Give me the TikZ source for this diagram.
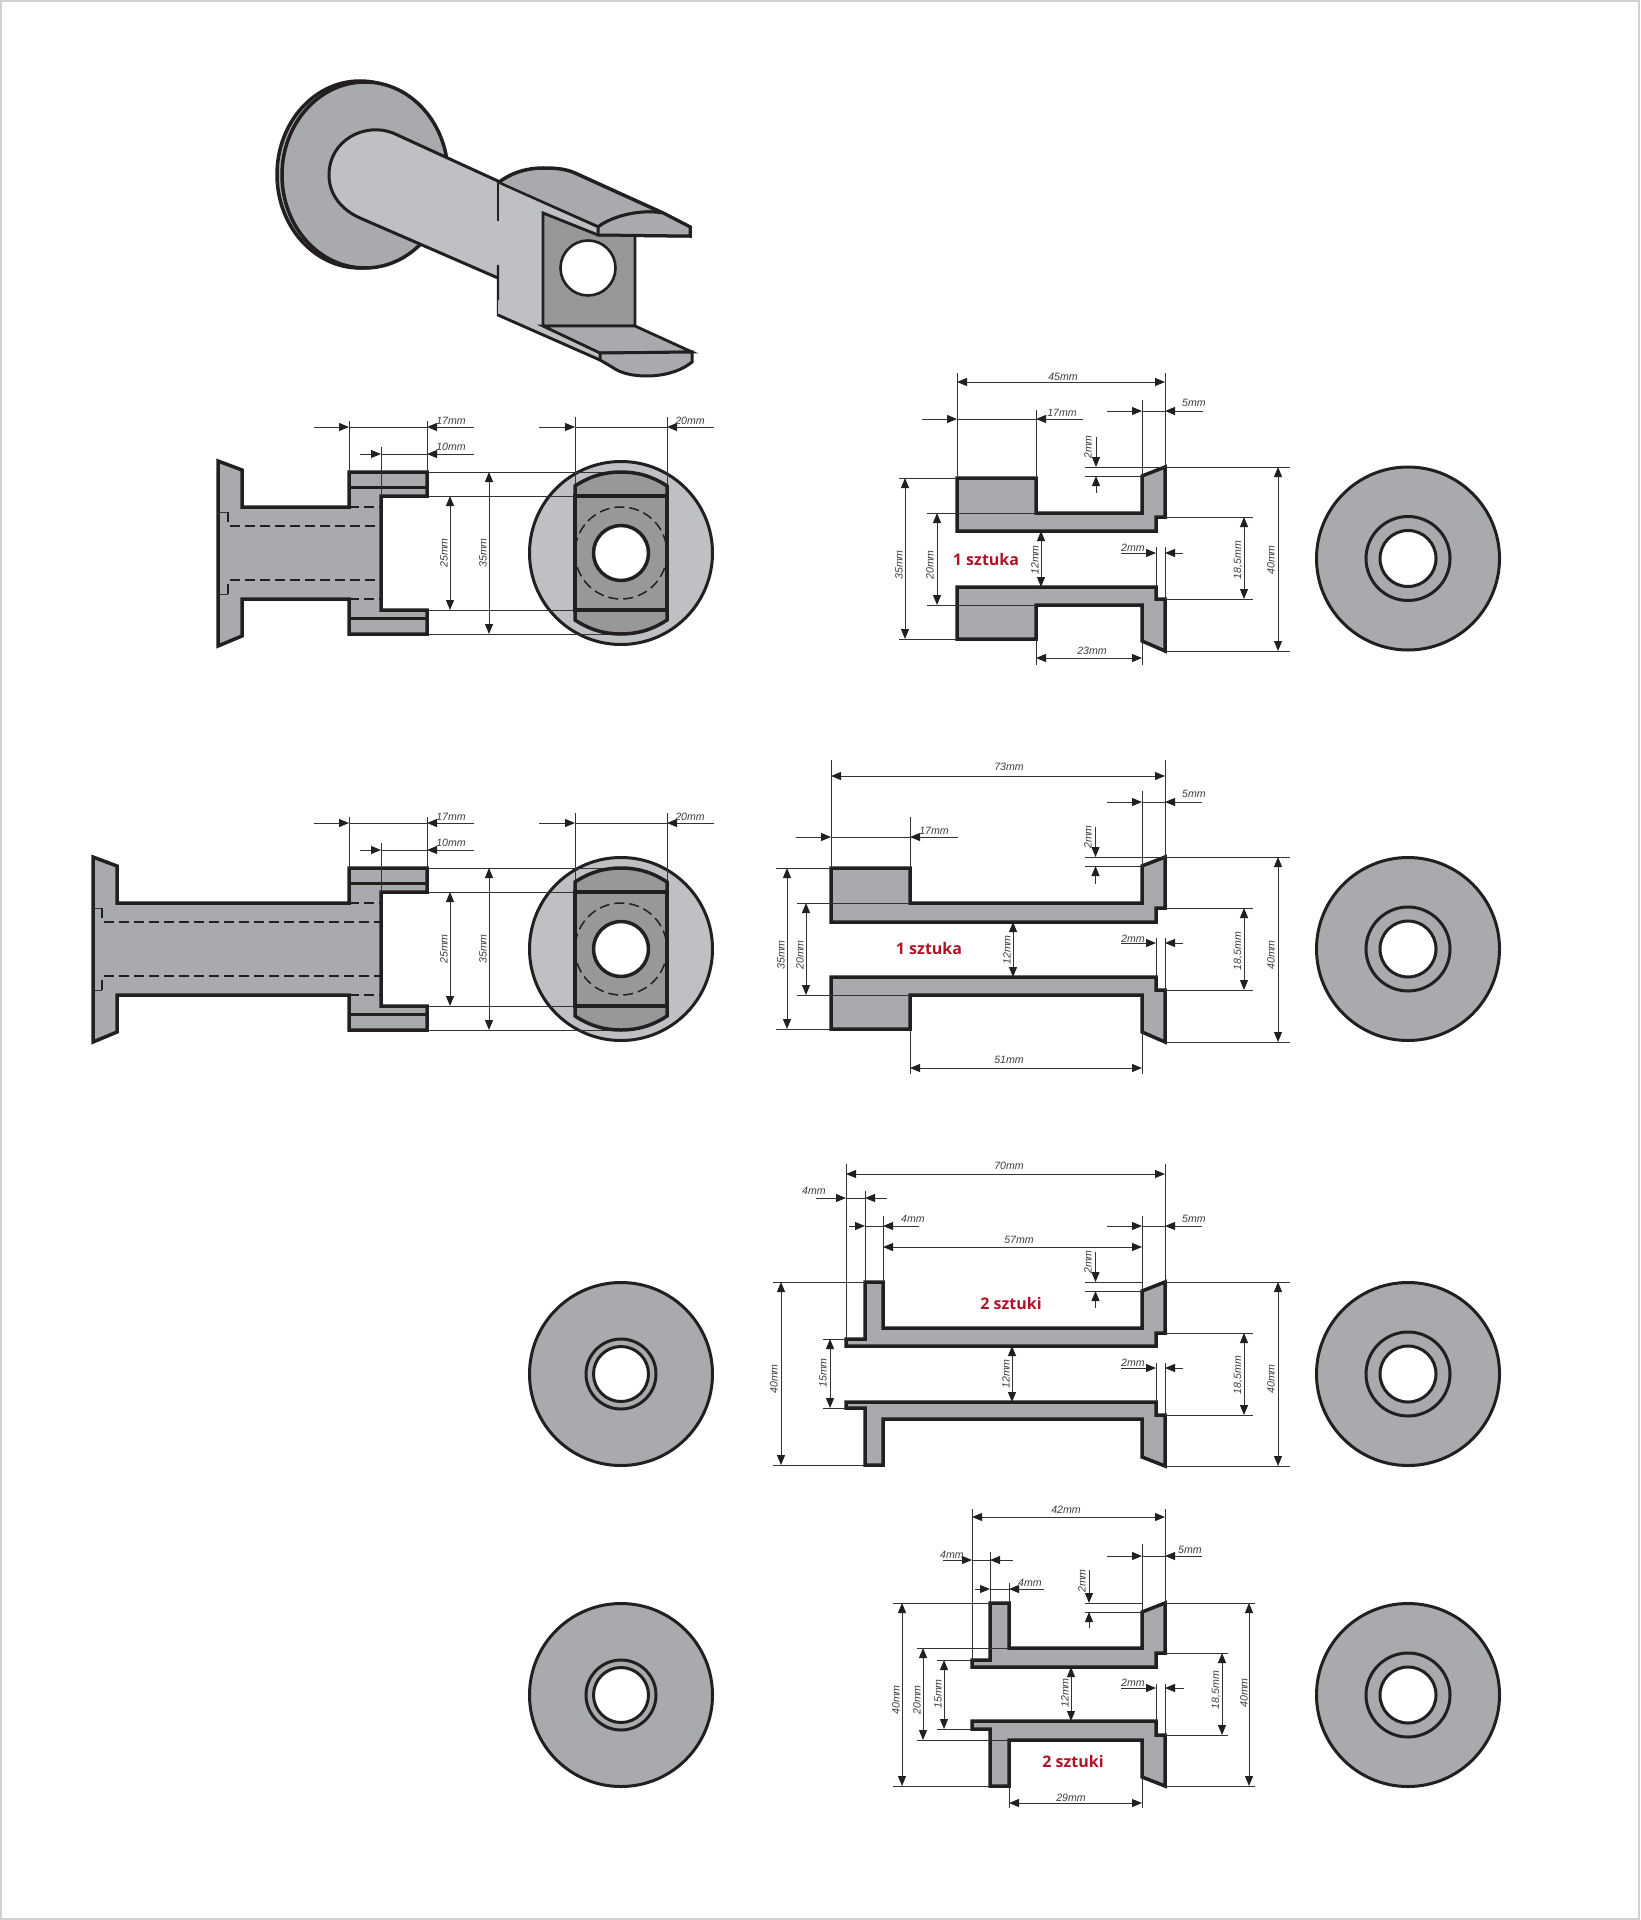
\documentclass[tikz,border=0pt]{standalone}
\usepackage{fontspec}
\setmainfont{Liberation Sans}
\newfontfamily\redfont{Open Sans}
\usetikzlibrary{arrows.meta}
\definecolor{partgray}{HTML}{A9AAAD}
\definecolor{lightgray2}{HTML}{BFC0C3}
\definecolor{darkgray2}{HTML}{98989B}
\definecolor{inkline}{HTML}{231F20}
\definecolor{thinink}{HTML}{333333}
\definecolor{labelred}{HTML}{AE1426}
\definecolor{labelgray}{HTML}{3C3C3C}
\tikzset{
  outline/.style={draw=inkline,line width=1.75pt,line join=miter},
  partfill/.style={outline,fill=partgray},
  thinline/.style={draw=thinink,line width=0.5pt},
  dashline/.style={draw=inkline,line width=0.75pt,dash pattern=on 5pt off 2.5pt},
  oneway/.style={thinline,-{Triangle[length=5pt,width=4pt,color=inkline]}},
  twoway/.style={thinline,{Triangle[length=5pt,width=4pt,color=inkline]}-{Triangle[length=5pt,width=4pt,color=inkline]}},
  dimlab/.style={inner sep=0pt,text=labelgray,font=\fontsize{5.3}{6}\selectfont\itshape},
  partlab/.style={inner sep=0pt,text=labelred,font=\redfont\fontsize{8}{9}\selectfont\bfseries},
}
\newcount\lcnt
\newcommand{\lab}[3]{\global\advance\lcnt by 1 \node[dimlab] (lab\the\lcnt) at (#1,#2) {#3};}
\newcommand{\rlab}[3]{\global\advance\lcnt by 1 \node[dimlab,rotate=90] (lab\the\lcnt) at (#1,#2) {#3};}
\newcommand{\plab}[3]{\global\advance\lcnt by 1 \node[partlab] (lab\the\lcnt) at (#1,#2) {#3};}
\newcommand{\ext}[4]{\draw[thinline] (#1,#2) -- (#3,#4);}
\newcommand{\one}[4]{\draw[oneway] (#1,#2) -- (#3,#4);}
\newcommand{\two}[4]{\draw[twoway] (#1,#2) -- (#3,#4);}
\newcommand{\washer}[4]{% cx cy ringr holer
  \fill[partgray] (#1,#2) circle[radius=91.5];
  \draw[outline,line width=1.5pt] (#1,#2) circle[radius=91.5];
  \draw[outline,line width=1.5pt] (#1,#2) circle[radius=#3];
  \draw[outline,line width=1.5pt,fill=white] (#1,#2) circle[radius=#4];
}
\newcommand{\capview}{%
  \fill[lightgray2] (621,553) circle[radius=91.5];
  \draw[outline,line width=1.5pt] (621,553) circle[radius=91.5];
  \ext{427}{472}{621}{472}\ext{427}{496}{575}{496}\ext{427}{610}{575}{610}\ext{427}{634}{621}{634}
  \ext{575}{417}{575}{486}\ext{667}{417}{667}{486}
  \filldraw[outline,fill=darkgray2] (575,496) -- (575,486) .. controls (590,476) and (605,472) .. (621,472) .. controls (637,472) and (652,476) .. (667,486) -- (667,496) -- cycle;
  \filldraw[outline,fill=darkgray2] (575,610) -- (575,620) .. controls (590,630) and (605,634) .. (621,634) .. controls (637,634) and (652,630) .. (667,620) -- (667,610) -- cycle;
  \filldraw[outline,fill=darkgray2] (575,496) rectangle (667,610);
  \draw[dashline] (621,553) circle[radius=46];
  \draw[outline,fill=white] (621,553) circle[radius=27.5];
}
\newcommand{\forkdims}{%
  \ext{349}{421}{349}{472}\ext{427}{421}{427}{472}\ext{381}{447}{381}{496}
  \one{314}{427}{349}{427}\ext{349}{427}{427}{427}\one{474}{427}{427}{427}
  \one{360}{454}{381}{454}\ext{381}{454}{427}{454}\one{474}{454}{427}{454}
  \one{539}{427}{575}{427}\ext{575}{427}{667}{427}\one{714}{427}{667}{427}
  \lab{451}{421}{17mm}\lab{451}{447}{10mm}\lab{690}{421}{20mm}
  \two{450}{496}{450}{610}\rlab{444}{553}{25mm}
  \two{489}{472}{489}{634}\rlab{483}{553}{35mm}
}
\newcommand{\forkdash}[1]{% x start of dashes
  \draw[dashline] (349,507) -- (381,507);
  \draw[dashline] (349,599) -- (381,599);
  \draw[dashline] (#1,526) -- (381,526);
  \draw[dashline] (#1,580) -- (381,580);
}
\begin{document}
\begin{tikzpicture}[x=0.5pt,y=-0.5pt]
\useasboundingbox (0,0) rectangle (1640,1920);
\draw[draw=black!18,line width=1pt] (1,1) rectangle (1639,1919);

%% ---------- perspective view
\filldraw[outline,fill=partgray] (360,174.5) ellipse[x radius=83,y radius=93.5];
\filldraw[outline,fill=partgray] (365,175) ellipse[x radius=83,y radius=93];
% roof
\filldraw[outline,fill=partgray] (498,183) .. controls (512,172) and (528,168) .. (543,168) .. controls (556,168) and (566,169) .. (575,173) -- (663,213) -- (690,227) -- (690,236) -- (598,235) -- (598,227) -- cycle;
\draw[outline,line width=1.4pt] (598,227) .. controls (612,216) and (640,209) .. (663,213);
% shaft and block
\fill[lightgray2] (393,133) .. controls (365,122) and (329,140) .. (329,175) .. controls (329,195) and (342,210) .. (360,218) -- (498,278) -- (498,315) -- (600,360) -- (600,353) -- (543,326) -- (543,213) -- (598,235) -- (598,227) -- (498,183) -- cycle;
\draw[outline,line width=1.5pt] (498,278) -- (360,218) .. controls (342,210) and (329,195) .. (329,175) .. controls (329,140) and (365,122) .. (393,133) -- (500,182);
\draw[outline,line width=1.2pt] (498,183) -- (498,221);
\draw[outline,line width=1.2pt] (498,265) -- (498,315) -- (600,360);
\draw[outline,line width=1.2pt] (500,183) -- (598,227);
\draw[outline,line width=1pt] (598,235) -- (543,213);
% inner face
\filldraw[outline,fill=darkgray2,line width=1.4pt] (543,213) -- (598,235) -- (635,235) -- (635,326) -- (543,326) -- cycle;
\draw[outline,fill=white,line width=1.3pt] (588,268) circle[radius=27.5];
\filldraw[outline,fill=partgray,line width=1.5pt] (598,227) .. controls (612,216) and (640,209) .. (663,213) -- (690,227) -- (690,236) -- (598,235) -- cycle;
% lower fork
\fill[lightgray2] (543,326) -- (600,353) -- (600,360) -- (498,315) -- (498,300) -- cycle;
\draw[outline,line width=1.4pt] (498,315) -- (600,360);
\draw[outline,line width=1pt] (543,326) -- (600,353);
\filldraw[outline,fill=partgray,line width=1.4pt] (543,326) -- (635,326) -- (692,352) -- (600,353) -- cycle;
\filldraw[outline,fill=partgray,line width=1.5pt] (600,353) -- (692,352) -- (692,362) .. controls (680,372) and (662,376) .. (647,376) .. controls (632,376) and (620,373) .. (612,367) -- (600,360) -- cycle;

%% ---------- side view 1
\capview
\filldraw[partfill] (218,461) -- (242,470) -- (242,507) -- (349,507) -- (349,472) -- (427,472) -- (427,496) -- (381,496) -- (381,610) -- (427,610) -- (427,634) -- (349,634) -- (349,599) -- (242,599) -- (242,636) -- (218,646) -- cycle;
\draw[outline,line width=1.5pt] (349,487) -- (427,487);
\draw[outline,line width=1.5pt] (349,618) -- (427,618);
\forkdash{230}
\draw[thinline] (218,512) -- (228,512);
\draw[thinline] (218,594) -- (228,594);
\draw[dashline] (228,512) -- (228,524);
\draw[dashline] (228,594) -- (228,582);
\forkdims

%% ---------- side view 2
\begin{scope}[shift={(0,396)}]
\capview
\filldraw[partfill] (93,461) -- (117,470) -- (117,507) -- (349,507) -- (349,472) -- (427,472) -- (427,496) -- (381,496) -- (381,610) -- (427,610) -- (427,634) -- (349,634) -- (349,599) -- (117,599) -- (117,636) -- (93,646) -- cycle;
\draw[outline,line width=1.5pt] (349,487) -- (427,487);
\draw[outline,line width=1.5pt] (349,618) -- (427,618);
\forkdash{104}
\draw[thinline] (93,512) -- (102,512);
\draw[thinline] (93,594) -- (102,594);
\draw[dashline] (102,512) -- (102,524);
\draw[dashline] (102,594) -- (102,582);
\forkdims
\end{scope}

%% ---------- washers
\washer{1408}{558.5}{42}{28}
\washer{1408}{949}{42}{28}
\washer{1408}{1374}{42}{28}
\washer{1408}{1695}{42}{28}
\washer{621}{1374}{35}{27.5}
\washer{621}{1695}{35}{27.5}

%% ---------- profile A
\filldraw[partfill] (957,478) -- (1036,478) -- (1036,513) -- (1142,513) -- (1142,476) -- (1165,467) -- (1165,517) -- (1156,517) -- (1156,531) -- (957,531) -- cycle;
\filldraw[partfill] (957,587) -- (1156,587) -- (1156,599) -- (1165,599) -- (1165,651) -- (1142,641) -- (1142,605) -- (1036,605) -- (1036,639) -- (957,639) -- cycle;
\ext{957}{373}{957}{478}\ext{1165}{373}{1165}{467}
\two{957}{382}{1165}{382}\lab{1063}{377}{45mm}
\ext{1036}{410}{1036}{478}
\one{922}{419}{957}{419}\ext{957}{419}{1036}{419}\one{1083}{419}{1036}{419}\lab{1062}{413}{17mm}
\ext{1142}{400}{1142}{476}
\one{1107}{411}{1142}{411}\ext{1142}{411}{1165}{411}\one{1203}{411}{1165}{411}\lab{1194}{403}{5mm}
\ext{1085}{467}{1290}{467}\ext{1085}{476}{1142}{476}
\one{1096}{437}{1096}{467}\one{1096}{493}{1096}{476}\rlab{1088}{447}{2mm}
\ext{899}{478}{957}{478}\ext{899}{639}{957}{639}
\two{905}{478}{905}{639}\rlab{899}{565}{35mm}
\ext{927}{513}{1036}{513}\ext{927}{605}{1036}{605}
\two{937}{513}{937}{605}\rlab{930}{565}{20mm}
\two{1041}{531}{1041}{587}\rlab{1035}{560}{12mm}
\plab{986}{559}{1 sztuka}
\ext{1156}{547}{1156}{587}\ext{1165}{547}{1165}{599}
\one{1121}{553}{1156}{553}\one{1183}{553}{1165}{553}\lab{1133}{548}{2mm}
\ext{1165}{517}{1253}{517}\ext{1165}{599}{1253}{599}
\two{1244}{517}{1244}{599}\rlab{1238}{560}{18,5mm}
\ext{1165}{651}{1290}{651}
\two{1278}{467}{1278}{651}\rlab{1271}{560}{40mm}
\ext{1036}{639}{1036}{665}\ext{1142}{641}{1142}{665}
\two{1036}{658}{1142}{658}\lab{1092}{651}{23mm}

%% ---------- profile B
\filldraw[partfill] (831,868) -- (910,868) -- (910,903) -- (1142,903) -- (1142,866) -- (1165,857) -- (1165,908) -- (1156,908) -- (1156,922) -- (831,922) -- cycle;
\filldraw[partfill] (831,977) -- (1156,977) -- (1156,990) -- (1165,990) -- (1165,1042) -- (1142,1032) -- (1142,995) -- (910,995) -- (910,1029) -- (831,1029) -- cycle;
\ext{831}{760}{831}{868}\ext{1165}{760}{1165}{857}
\two{831}{776}{1165}{776}\lab{1009}{767}{73mm}
\ext{910}{817}{910}{868}
\one{796}{837}{831}{837}\ext{831}{837}{910}{837}\one{958}{837}{910}{837}\lab{934}{831}{17mm}
\ext{1142}{791}{1142}{866}
\one{1107}{802}{1142}{802}\ext{1142}{802}{1165}{802}\one{1202}{802}{1165}{802}\lab{1194}{794}{5mm}
\ext{1085}{857}{1290}{857}\ext{1085}{866}{1142}{866}
\one{1095.5}{827}{1095.5}{857}\one{1095.5}{884}{1095.5}{866}\rlab{1088}{837}{2mm}
\ext{776}{868}{831}{868}\ext{776}{1029}{831}{1029}
\two{787}{868}{787}{1029}\rlab{781}{955}{35mm}
\ext{797}{903}{910}{903}\ext{797}{995}{910}{995}
\two{806}{903}{806}{995}\rlab{800}{955}{20mm}
\two{1013}{922}{1013}{977}\rlab{1007}{950}{12mm}
\plab{929}{948}{1 sztuka}
\ext{1156}{938}{1156}{977}\ext{1165}{938}{1165}{990}
\one{1121}{943}{1156}{943}\one{1183}{943}{1165}{943}\lab{1133}{939}{2mm}
\ext{1165}{908}{1253}{908}\ext{1165}{990}{1253}{990}
\two{1244}{908}{1244}{990}\rlab{1238}{951}{18,5mm}
\ext{1165}{1042}{1290}{1042}
\two{1278}{857}{1278}{1042}\rlab{1271}{955}{40mm}
\ext{910}{1029}{910}{1074}\ext{1142}{1032}{1142}{1074}
\two{910}{1068}{1142}{1068}\lab{1009}{1060}{51mm}

%% ---------- profile C
\filldraw[partfill] (846,1346) -- (846,1339) -- (865,1339) -- (865,1282) -- (883,1282) -- (883,1328) -- (1142,1328) -- (1142,1291) -- (1165,1282) -- (1165,1333) -- (1156,1333) -- (1156,1346) -- cycle;
\filldraw[partfill] (846,1402) -- (846,1408) -- (865,1408) -- (865,1465) -- (883,1465) -- (883,1419) -- (1142,1419) -- (1142,1457) -- (1165,1466) -- (1165,1415) -- (1156,1415) -- (1156,1402) -- cycle;
\ext{846}{1164}{846}{1339}\ext{1165}{1164}{1165}{1282}
\two{846}{1174}{1165}{1174}\lab{1009}{1166}{70mm}
\ext{865}{1191}{865}{1282}
\one{816}{1198}{846}{1198}\ext{846}{1198}{865}{1198}\one{887}{1198}{865}{1198}\lab{814}{1191}{4mm}
\ext{883}{1216}{883}{1282}
\one{849}{1226}{865}{1226}\ext{865}{1226}{883}{1226}\one{919}{1226}{883}{1226}\lab{913}{1219}{4mm}
\two{883}{1247}{1142}{1247}\lab{1019}{1240}{57mm}
\ext{1142}{1216}{1142}{1291}
\one{1107}{1226}{1142}{1226}\ext{1142}{1226}{1165}{1226}\one{1202}{1226}{1165}{1226}\lab{1194}{1219}{5mm}
\ext{773}{1282}{865}{1282}\ext{1165}{1282}{1290}{1282}\ext{1085}{1282}{1142}{1282}\ext{1085}{1291}{1142}{1291}
\one{1095.5}{1252}{1095.5}{1282}\one{1095.5}{1308}{1095.5}{1291}\rlab{1088}{1262}{2mm}
\ext{773}{1465}{865}{1465}
\two{781}{1282}{781}{1465}\rlab{774}{1379}{40mm}
\ext{823}{1339}{846}{1339}\ext{823}{1408}{846}{1408}
\two{830}{1339}{830}{1408}\rlab{823}{1373}{15mm}
\two{1012}{1346}{1012}{1402}\rlab{1006}{1374}{12mm}
\plab{1011}{1303}{2 sztuki}
\ext{1156}{1363}{1156}{1402}\ext{1165}{1363}{1165}{1415}
\one{1121}{1368}{1156}{1368}\one{1183}{1368}{1165}{1368}\lab{1133}{1363}{2mm}
\ext{1165}{1333}{1253}{1333}\ext{1165}{1415}{1253}{1415}
\two{1244}{1333}{1244}{1415}\rlab{1238}{1375}{18,5mm}
\ext{1165}{1466}{1290}{1466}
\two{1278}{1282}{1278}{1466}\rlab{1271}{1379}{40mm}

%% ---------- profile D
\filldraw[partfill] (972,1667) -- (972,1660) -- (990,1660) -- (990,1603) -- (1009,1603) -- (1009,1648) -- (1142,1648) -- (1142,1612) -- (1165,1603) -- (1165,1653) -- (1156,1653) -- (1156,1667) -- cycle;
\filldraw[partfill] (972,1721) -- (972,1729) -- (990,1729) -- (990,1786) -- (1009,1786) -- (1009,1740) -- (1142,1740) -- (1142,1777) -- (1165,1786) -- (1165,1735) -- (1156,1735) -- (1156,1721) -- cycle;
\ext{972}{1509}{972}{1660}\ext{1165}{1509}{1165}{1603}
\two{972}{1517}{1165}{1517}\lab{1066}{1510}{42mm}
\ext{990}{1552}{990}{1603}
\one{943}{1560}{972}{1560}\ext{972}{1560}{990}{1560}\one{1013}{1560}{990}{1560}\lab{952}{1555}{4mm}
\ext{1009}{1583}{1009}{1603}
\one{975}{1589}{990}{1589}\ext{990}{1589}{1009}{1589}\one{1044}{1589}{1009}{1589}\lab{1030}{1583}{4mm}
\ext{1142}{1544}{1142}{1612}
\one{1107}{1556}{1142}{1556}\ext{1142}{1556}{1165}{1556}\one{1202}{1556}{1165}{1556}\lab{1190}{1550}{5mm}
\ext{893}{1603}{990}{1603}\ext{1165}{1603}{1255}{1603}\ext{1085}{1603}{1142}{1603}\ext{1085}{1612}{1142}{1612}
\one{1089}{1570}{1089}{1603}\one{1089}{1628}{1089}{1612}\rlab{1082}{1581}{2mm}
\ext{893}{1786}{990}{1786}
\two{902}{1603}{902}{1786}\rlab{896}{1700}{40mm}
\ext{917}{1648}{1009}{1648}\ext{917}{1740}{1009}{1740}
\two{923}{1648}{923}{1740}\rlab{917}{1700}{20mm}
\ext{937}{1660}{972}{1660}\ext{937}{1729}{972}{1729}
\two{944}{1660}{944}{1729}\rlab{938}{1694}{15mm}
\two{1071}{1667}{1071}{1721}\rlab{1065}{1693}{12mm}
\plab{1073}{1761}{2 sztuki}
\ext{1156}{1684}{1156}{1721}\ext{1165}{1684}{1165}{1735}
\one{1121}{1688}{1156}{1688}\one{1184}{1688}{1165}{1688}\lab{1133}{1683}{2mm}
\ext{1165}{1653}{1228}{1653}\ext{1165}{1735}{1228}{1735}
\two{1222}{1653}{1222}{1735}\rlab{1216}{1690}{18,5mm}
\ext{1165}{1786}{1255}{1786}
\two{1249}{1603}{1249}{1786}\rlab{1244}{1693}{40mm}
\ext{1009}{1786}{1009}{1808}\ext{1142}{1777}{1142}{1808}
\two{1009}{1803}{1142}{1803}\lab{1071}{1798}{29mm}
\end{tikzpicture}
\end{document}
